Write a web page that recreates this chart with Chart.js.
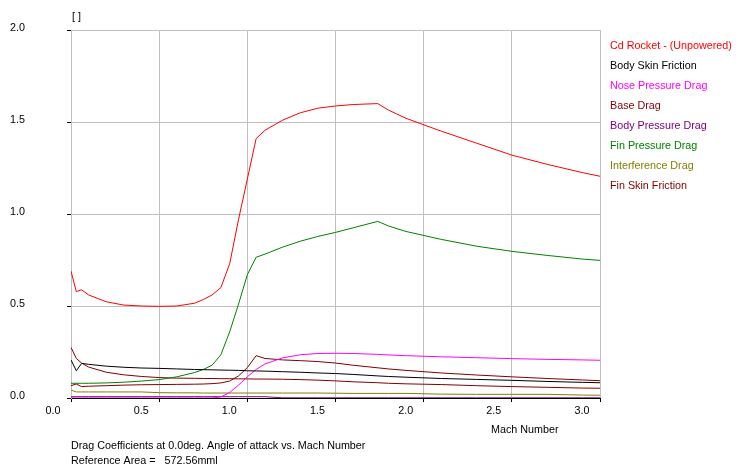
<!DOCTYPE html>
<html>
<head>
<meta charset="utf-8">
<title>Drag Coefficients</title>
<script src="https://cdn.jsdelivr.net/npm/chart.js@4/dist/chart.umd.min.js"></script>
<style>
    html, body { margin: 0; padding: 0; background: #ffffff; }
    #wrap { width: 745px; height: 468px; position: relative; }
</style>
</head>
<body>
<div id="wrap"><canvas id="dragChart" width="745" height="468"></canvas></div>
<script>
// Mach points shared by every series
const mach = [0.1, 0.13, 0.16, 0.2, 0.3, 0.4, 0.5, 0.6, 0.7, 0.8, 0.85, 0.9, 0.95, 1.0, 1.05, 1.1,
              1.15, 1.2, 1.3, 1.4, 1.5, 1.6, 1.7, 1.84, 1.9, 2.0, 2.2, 2.4, 2.6, 2.8, 3.0, 3.1];

const cdRocket = [0.69, 0.578, 0.588, 0.56, 0.523, 0.505, 0.50, 0.498, 0.50, 0.515, 0.535, 0.56, 0.60, 0.73, 0.97, 1.19,
                  1.41, 1.455, 1.51, 1.55, 1.575, 1.587, 1.595, 1.60, 1.565, 1.52, 1.45, 1.385, 1.32, 1.27, 1.225, 1.205];
const bodySkinFriction = [0.207, 0.148, 0.188, 0.183, 0.173, 0.167, 0.163, 0.161, 0.158, 0.155, 0.154, 0.153, 0.152, 0.151, 0.15, 0.148,
                          0.147, 0.146, 0.143, 0.14, 0.136, 0.133, 0.128, 0.12, 0.117, 0.113, 0.106, 0.101, 0.096, 0.09, 0.085, 0.083];
const nosePressureDrag = [0, 0, 0, 0, 0, 0, 0, 0, 0, 0, 0, 0, 0.006, 0.03, 0.07, 0.115,
                          0.155, 0.185, 0.218, 0.235, 0.242, 0.243, 0.242, 0.237, 0.234, 0.23, 0.224, 0.219, 0.214, 0.21, 0.207, 0.205];
const baseDrag = [0.067, 0.076, 0.062, 0.064, 0.067, 0.07, 0.072, 0.073, 0.074, 0.075, 0.076, 0.078, 0.082, 0.092, 0.12, 0.165,
                  0.23, 0.215, 0.207, 0.203, 0.198, 0.19, 0.178, 0.164, 0.158, 0.15, 0.136, 0.125, 0.115, 0.106, 0.098, 0.094];
const bodyPressureDrag = [0.007, 0.007, 0.007, 0.007, 0.007, 0.007, 0.007, 0.007, 0.007, 0.007, 0.007, 0.007, 0.007, 0.007, 0.007, 0.007,
                          0.007, 0.007, 0.001, 0.001, 0.001, 0.001, 0.001, 0.001, 0.001, 0.001, 0.001, 0.001, 0.001, 0.001, 0.001, 0.001];
const finPressureDrag = [0.08, 0.08, 0.08, 0.08, 0.082, 0.086, 0.092, 0.10, 0.115, 0.138, 0.155, 0.178, 0.235, 0.36, 0.51, 0.67,
                         0.765, 0.782, 0.82, 0.852, 0.878, 0.90, 0.925, 0.96, 0.935, 0.905, 0.862, 0.825, 0.797, 0.775, 0.755, 0.748];
const interferenceDrag = [0.043, 0.033, 0.033, 0.033, 0.033, 0.033, 0.033, 0.029, 0.028, 0.028, 0.027, 0.027, 0.027, 0.027, 0.027, 0.027,
                          0.027, 0.027, 0.027, 0.027, 0.027, 0.026, 0.025, 0.025, 0.025, 0.025, 0.021, 0.02, 0.02, 0.02, 0.016, 0.015];
const finSkinFriction = [0.275, 0.215, 0.19, 0.168, 0.14, 0.126, 0.117, 0.111, 0.108, 0.107, 0.106, 0.106, 0.105, 0.105, 0.104, 0.104,
                         0.103, 0.103, 0.102, 0.10, 0.097, 0.093, 0.088, 0.083, 0.08, 0.077, 0.073, 0.067, 0.062, 0.058, 0.054, 0.053];

const seriesNames = ['Cd Rocket - (Unpowered)', 'Body Skin Friction', 'Nose Pressure Drag', 'Base Drag',
                     'Body Pressure Drag', 'Fin Pressure Drag', 'Interference Drag', 'Fin Skin Friction'];
const seriesValues = [cdRocket, bodySkinFriction, nosePressureDrag, baseDrag,
                      bodyPressureDrag, finPressureDrag, interferenceDrag, finSkinFriction];
const seriesColors = ['#ff0000', '#000000', '#ff00ff', '#800000', '#800080', '#008000', '#808000', '#800000'];

// axis ticks (grid lines sit 0.1 right of their labels, as in the original)
const xGridMach = [0.1, 0.6, 1.1, 1.6, 2.1, 2.6, 3.1];
const xTickLabels = ['0.0', '0.5', '1.0', '1.5', '2.0', '2.5', '3.0'];
const yTickLabels = ['0.0', '0.5', '1.0', '1.5', '2.0'];

const unitLabel = '[ ]';
const xTitle = 'Mach Number';
const footLines = ['Drag Coefficients at 0.0deg. Angle of attack vs. Mach Number',
                   'Reference Area =   572.56mml'];

const FONT_FAMILY = '"Liberation Sans", Arial, sans-serif';
const FONT_SIZE = 10.75;

Chart.defaults.font.family = FONT_FAMILY;
Chart.defaults.font.size = FONT_SIZE;
Chart.defaults.color = '#000000';

// texts around the plot and the plain coloured legend
const textPlugin = {
    id: 'rsTexts',
    afterDraw(chart) {
        const ctx = chart.ctx;
        const area = chart.chartArea;
        ctx.save();
        ctx.font = FONT_SIZE + 'px ' + FONT_FAMILY;
        ctx.textAlign = 'left';
        ctx.textBaseline = 'middle';
        ctx.fillStyle = '#000000';
        ctx.fillText(unitLabel, area.left + 1, 17);
        ctx.fillText(xTitle, 491, 430);
        ctx.fillText(footLines[0], area.left, 446);
        ctx.fillText(footLines[1], area.left, 461);

        seriesNames.forEach(function(name, i) {
            ctx.fillStyle = seriesColors[i];
            ctx.fillText(name, area.right + 10, 46 + i * 20);
        });
        ctx.restore();
    }
};

const datasets = seriesNames.map(function(name, i) {
    return {
        label: name,
        data: mach.map((m, j) => ({ x: m, y: seriesValues[i][j] })),
        borderColor: seriesColors[i],
        backgroundColor: seriesColors[i],
        borderWidth: 1,
        pointRadius: 0,
        tension: 0,
        fill: false
    };
});

new Chart(document.getElementById('dragChart'), {
    type: 'line',
    data: { datasets: datasets },
    options: {
        responsive: false,
        animation: false,
        layout: { padding: { left: 0, top: 30, right: 145, bottom: 0 } },
        plugins: {
            legend: { display: false },
            tooltip: { enabled: false },
            title: { display: false }
        },
        scales: {
            x: {
                type: 'linear',
                min: 0.1,
                max: 3.1,
                afterBuildTicks: function(scale) {
                    scale.ticks = xGridMach.map(v => ({ value: v }));
                },
                afterFit: function(scale) { scale.height = 70; },
                grid: { color: '#c0c0c0', tickColor: '#000000', tickLength: 4 },
                border: { color: '#000000', width: 1 },
                ticks: {
                    autoSkip: false,
                    maxRotation: 0,
                    padding: 3,
                    labelOffset: -18,
                    callback: function(value, index) { return xTickLabels[index]; }
                }
            },
            y: {
                min: 0,
                max: 2,
                afterFit: function(scale) {
                    // wide gap between labels and axis, without pushing the plot down
                    scale.width = 71;
                    scale.paddingTop = 0;
                    scale.paddingBottom = 0;
                },
                grid: { color: '#c0c0c0', tickColor: '#000000', tickLength: 4 },
                border: { color: '#c0c0c0', width: 1 },
                ticks: {
                    stepSize: 0.5,
                    padding: 42,
                    labelOffset: -2,
                    callback: function(value, index) { return yTickLabels[index]; }
                }
            }
        }
    },
    plugins: [textPlugin]
});
</script>
</body>
</html>
